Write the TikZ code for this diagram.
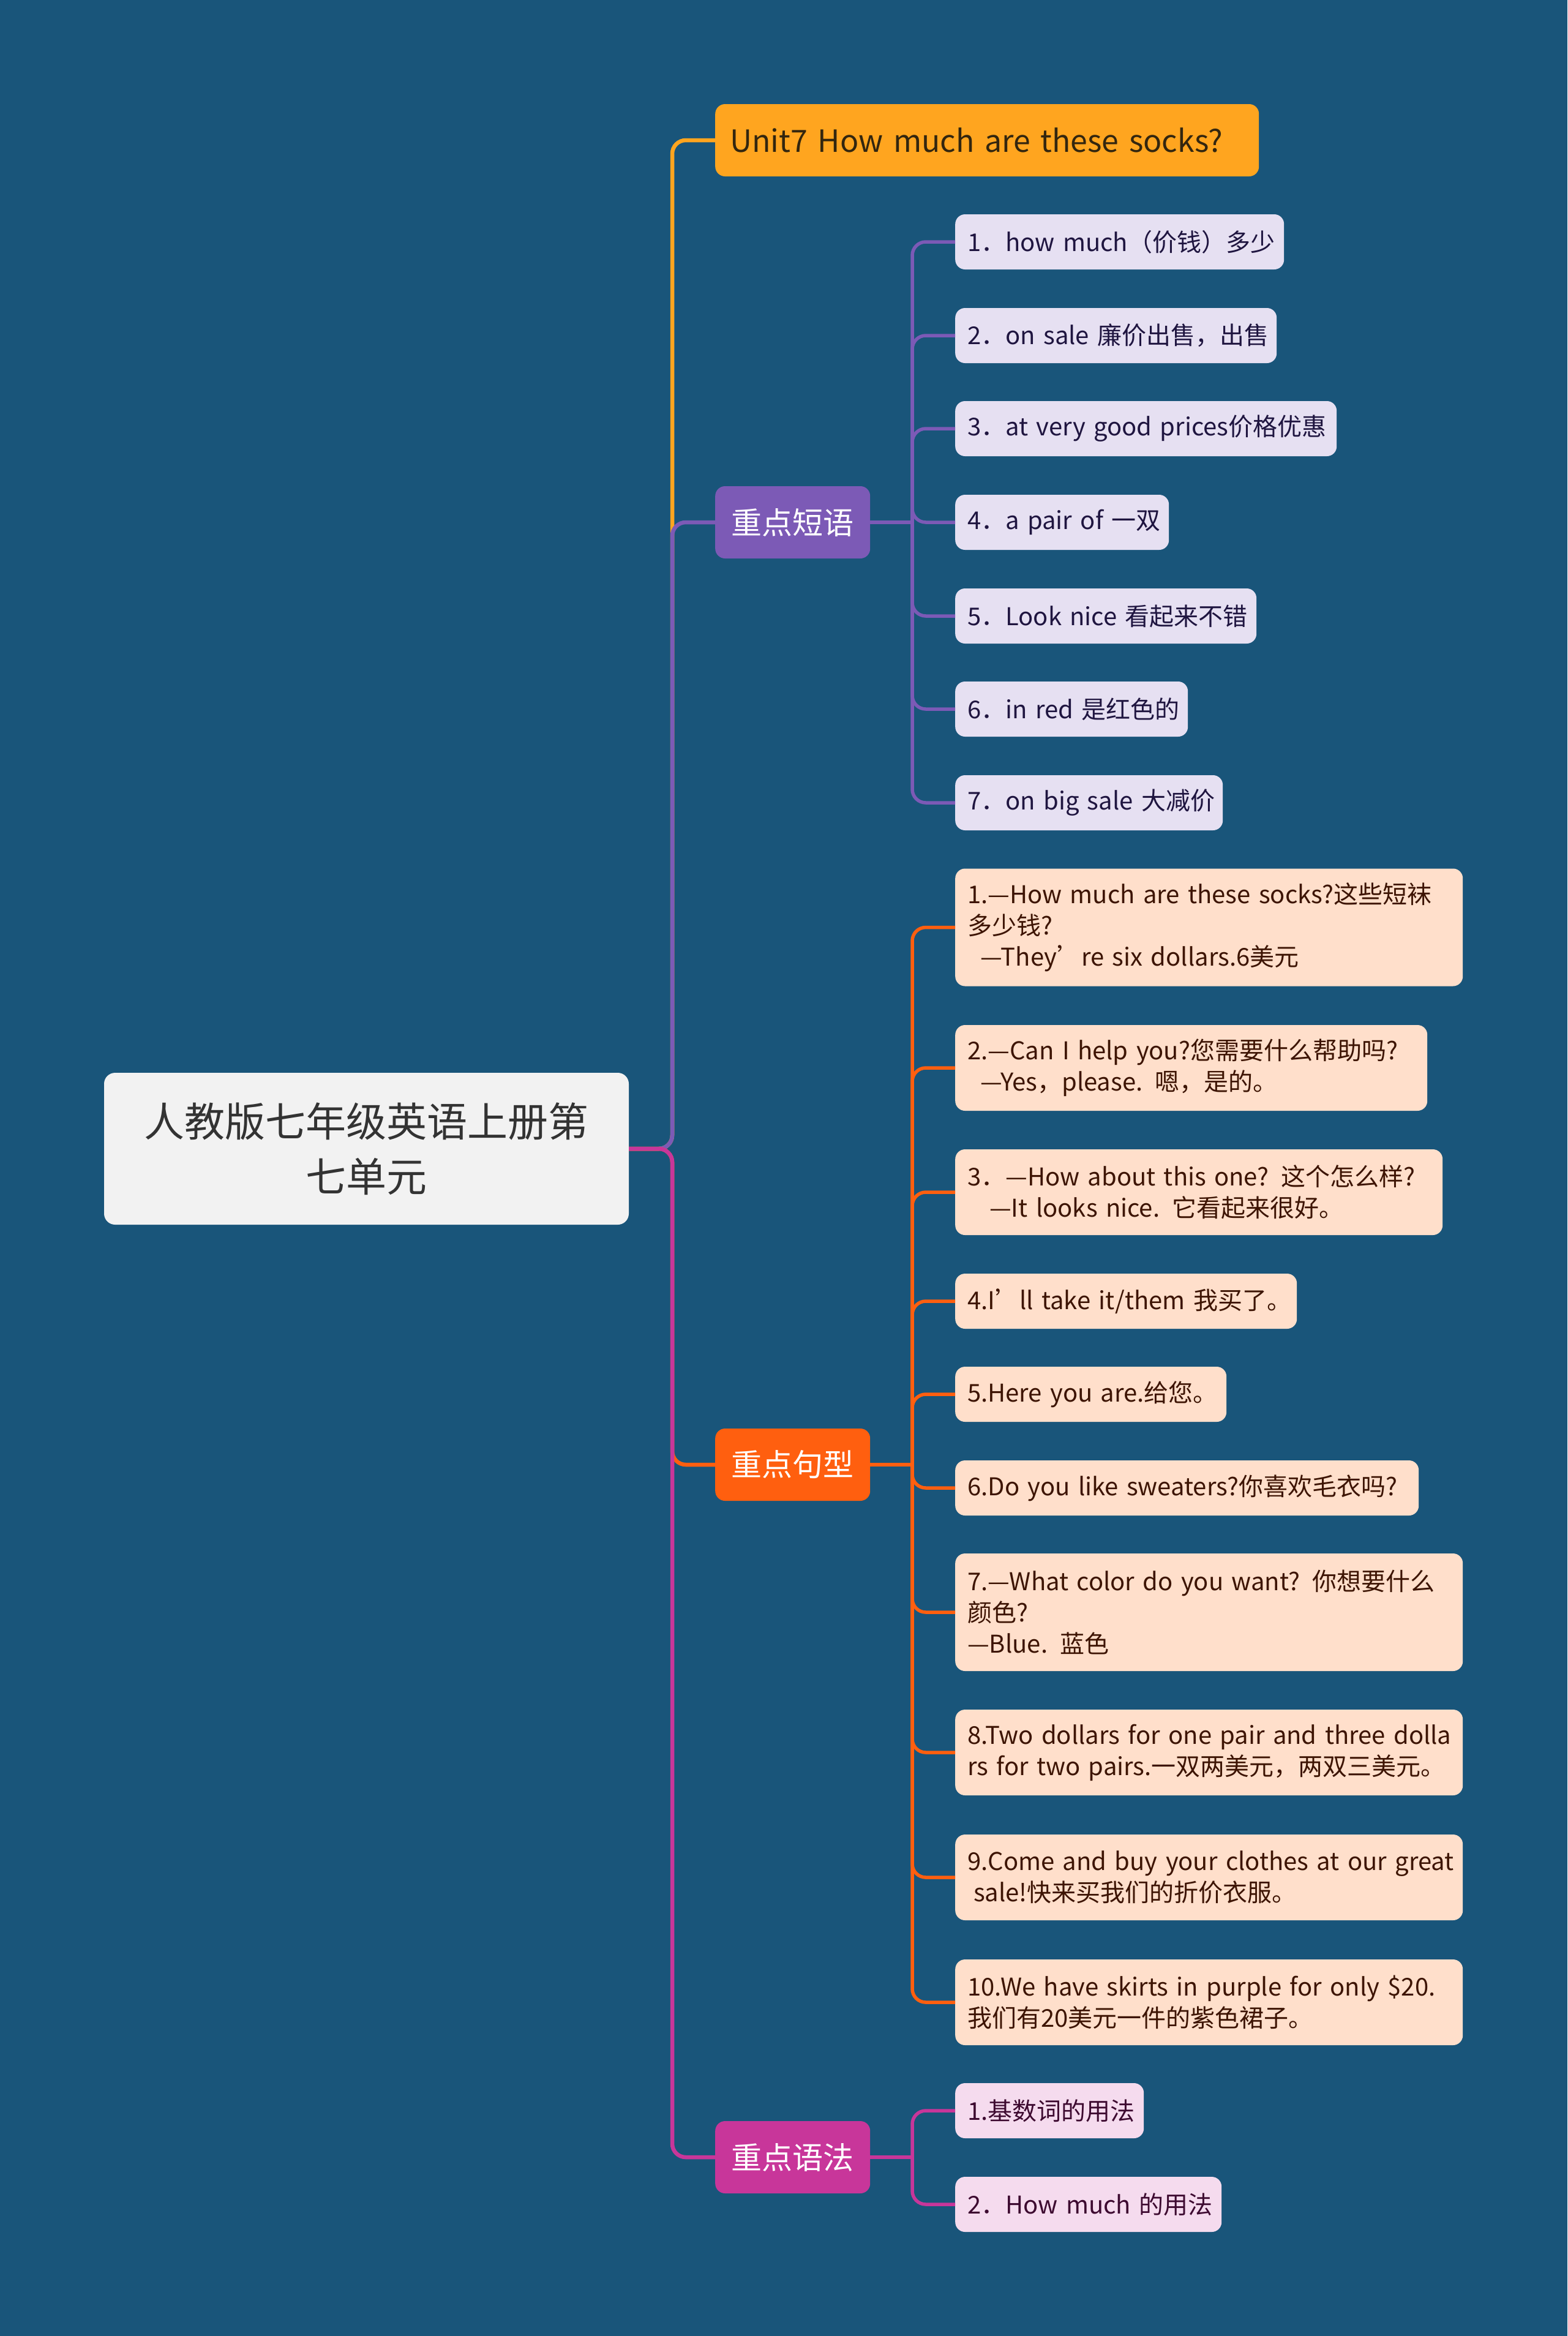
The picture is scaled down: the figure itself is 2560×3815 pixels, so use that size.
\documentclass[tikz,border=0pt]{standalone}
\usepackage{fontspec}
\setmainfont{Noto Sans CJK SC}
\definecolor{bg}{HTML}{19557A}
\definecolor{ttfill}{HTML}{FFA51F}
\definecolor{tttext}{HTML}{33260F}
\definecolor{phc}{HTML}{7C5AB6}
\definecolor{phfill}{HTML}{E6E0F2}
\definecolor{phtext}{HTML}{1F1540}
\definecolor{sxc}{HTML}{FF5F0F}
\definecolor{sxfill}{HTML}{FFDFCB}
\definecolor{sxtext}{HTML}{3D1403}
\definecolor{yfc}{HTML}{C8369A}
\definecolor{yffill}{HTML}{F5DBEE}
\definecolor{yftext}{HTML}{3D0A30}
\definecolor{rootfill}{HTML}{F2F2F2}
\definecolor{roottext}{HTML}{333333}
\newcommand\Lx[1]{\mbox{#1}}
\begin{document}
\begin{tikzpicture}[x=1pt,y=-1pt,
  box/.style={rounded corners=16pt, inner xsep=20pt, inner ysep=0pt, anchor=west, align=left,
    font=\fontsize{40}{51}\selectfont},
  ph/.style={box, fill=phfill, text=phtext},
  sx/.style={box, fill=sxfill, text=sxtext},
  yf/.style={box, fill=yffill, text=yftext},
  one/.style={minimum height=90pt},
  two/.style={minimum height=140pt},
  three/.style={minimum height=192pt},
  branch/.style={rounded corners=16pt, inner sep=0pt, anchor=west, minimum width=253pt,
    minimum height=118pt, text=white, font=\fontsize{50}{60}\selectfont},
  mainline/.style={line width=6.5pt},
  subline/.style={line width=5.5pt, rounded corners=22pt},
]
\fill[bg] (0,0) rectangle (2560,3815);
\useasboundingbox (0,0) rectangle (2560,3815);

% root
\node[rounded corners=18pt, fill=rootfill, text=roottext, minimum width=857pt, minimum height=248pt,
  inner sep=0pt, align=center, font=\fontsize{66}{90}\selectfont] (root) at (598.5,1876)
  {人教版七年级英语上册第\\七单元};

% title
\node[rounded corners=16pt, fill=ttfill, text=tttext, anchor=west, inner xsep=24pt, inner ysep=0pt,
  text width=840pt, minimum height=118pt, align=left, font=\fontsize{50}{60}\selectfont] (t) at (1168,229)
  {\Lx{Unit7 How much are these socks?}};

% branches
\node[branch, fill=phc] (b1) at (1168,853) {重点短语};
\node[branch, fill=sxc] (b2) at (1168,2392) {重点句型};
\node[branch, fill=yfc] (b3) at (1168,3523) {重点语法};

% phrases
\node[ph, one, text width=497pt] (p1) at (1560,395) {\Lx{1．how much（价钱）多少}};
\node[ph, one, text width=485pt] (p2) at (1560,548) {\Lx{2．on sale 廉价出售，出售}};
\node[ph, one, text width=583pt] (p3) at (1560,700) {\Lx{3．at very good prices价格优惠}};
\node[ph, one, text width=309pt] (p4) at (1560,853) {\Lx{4．a pair of 一双}};
\node[ph, one, text width=452pt] (p5) at (1560,1006) {\Lx{5．Look nice 看起来不错}};
\node[ph, one, text width=340pt] (p6) at (1560,1158) {\Lx{6．in red 是红色的}};
\node[ph, one, text width=397pt] (p7) at (1560,1311) {\Lx{7．on big sale 大减价}};

% sentences
\node[sx, three, text width=789pt] (s1) at (1560,1514.5)
  {\Lx{1.—How much are these socks?这些短袜}\\\Lx{多少钱?}\\\Lx{\hspace*{21pt}—They’re six dollars.6美元}};
\node[sx, two, text width=731pt] (s2) at (1560,1744)
  {\Lx{2.—Can I help you?您需要什么帮助吗?}\\\Lx{\hspace*{21pt}—Yes，please. 嗯，是的。}};
\node[sx, two, text width=756pt] (s3) at (1560,1947)
  {\Lx{3．—How about this one? 这个怎么样?}\\\Lx{\hspace*{36pt}—It looks nice. 它看起来很好。}};
\node[sx, one, text width=518pt] (s4) at (1560,2125) {\Lx{4.I’ll take it/them 我买了。}};
\node[sx, one, text width=403pt] (s5) at (1560,2277) {\Lx{5.Here you are.给您。}};
\node[sx, one, text width=717pt] (s6) at (1560,2430) {\Lx{6.Do you like sweaters?你喜欢毛衣吗?}};
\node[sx, three, text width=789pt] (s7) at (1560,2633)
  {\Lx{7.—What color do you want? 你想要什么}\\\Lx{颜色?}\\\Lx{—Blue. 蓝色}};
\node[sx, two, text width=789pt] (s8) at (1560,2862)
  {\Lx{8.Two dollars for one pair and three dolla}\\\Lx{rs for two pairs.一双两美元，两双三美元。}};
\node[sx, two, text width=789pt] (s9) at (1560,3066)
  {\Lx{9.Come and buy your clothes at our great}\\\Lx{\hspace*{10pt}sale!快来买我们的折价衣服。}};
\node[sx, two, text width=789pt] (s10) at (1560,3270)
  {\Lx{10.We have skirts in purple for only \$20.}\\\Lx{我们有20美元一件的紫色裙子。}};

% grammar
\node[yf, one, text width=268pt] (g1) at (1560,3447) {\Lx{1.基数词的用法}};
\node[yf, one, text width=395pt] (g2) at (1560,3600) {\Lx{2．How much 的用法}};

% main connectors
\coordinate (rj) at (1098,1876);
\draw[mainline, ttfill, rounded corners=22pt] (root.east) -- (rj) |- (t.west);
\draw[mainline, phc, rounded corners=22pt] (root.east) -- (rj) |- (b1.west);
\draw[mainline, sxc, rounded corners=22pt] (root.east) -- (rj) |- (b2.west);
\draw[mainline, yfc, rounded corners=22pt] (root.east) -- (rj) |- (b3.west);

% sub connectors
\coordinate (j1) at (1490,853);
\coordinate (j2) at (1490,2392);
\coordinate (j3) at (1490,3523);
\draw[line width=5.5pt, phc] (b1.east) -- (j1);
\foreach \i in {1,...,7} \draw[subline, phc] (j1) |- (p\i.west);
\draw[line width=5.5pt, sxc] (b2.east) -- (j2);
\foreach \i in {1,...,10} \draw[subline, sxc] (j2) |- (s\i.west);
\draw[line width=5.5pt, yfc] (b3.east) -- (j3);
\foreach \i in {1,2} \draw[subline, yfc] (j3) |- (g\i.west);
\end{tikzpicture}
\end{document}
